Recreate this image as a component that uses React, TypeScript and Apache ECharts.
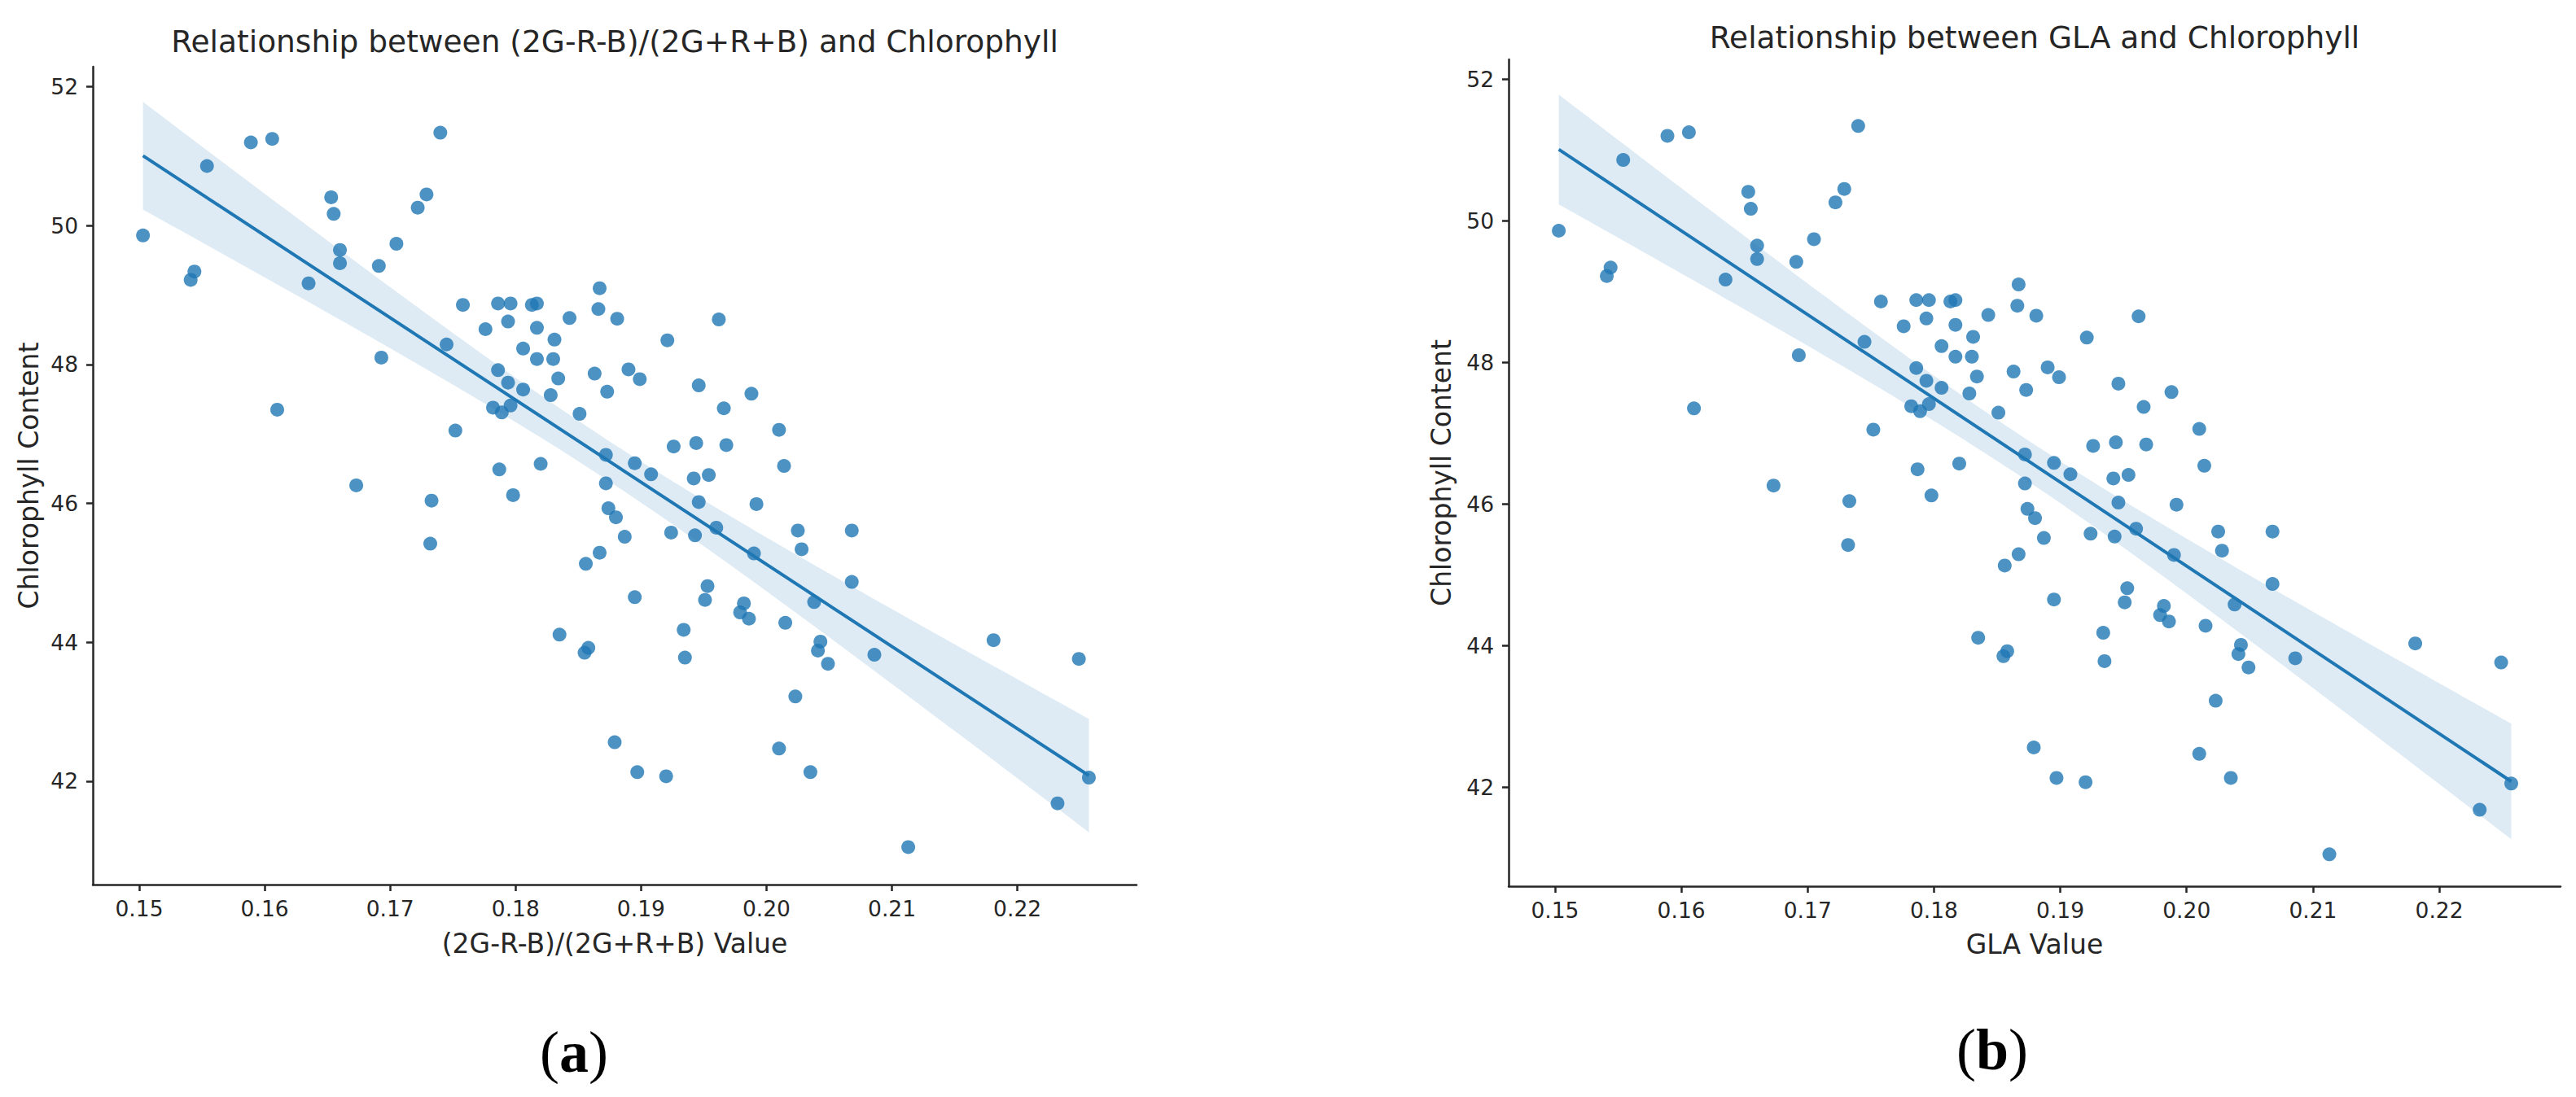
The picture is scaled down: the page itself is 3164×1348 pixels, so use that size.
import React, { useEffect, useRef } from "react";
import * as echarts from "echarts";

// Index values (x): (2G-R-B)/(2G+R+B) = GLA
const indexValues = [
  0.1503, 0.1541, 0.1544, 0.1554, 0.1589, 0.1606, 0.161, 0.1635, 0.1653, 0.1655,
  0.166, 0.166, 0.1691, 0.1693, 0.1705, 0.1722, 0.1729, 0.174, 0.1745, 0.1758,
  0.1752, 0.1776, 0.1786, 0.1796, 0.1794, 0.1786, 0.1794, 0.1806, 0.1806, 0.1813,
  0.1817, 0.1817, 0.1817, 0.1831, 0.183, 0.1834, 0.1828, 0.1843, 0.1782, 0.1789,
  0.1796, 0.1851, 0.1867, 0.1866, 0.1881, 0.1863, 0.1873, 0.189, 0.1899, 0.1787,
  0.182, 0.1673, 0.1872, 0.1895, 0.1733, 0.1798, 0.1872, 0.1874, 0.188, 0.1887,
  0.1732, 0.1867, 0.1856, 0.1895, 0.1835, 0.1858, 0.1855, 0.1879, 0.1897, 0.1962,
  0.1921, 0.1946, 0.1988, 0.1966, 0.201, 0.2014, 0.1926, 0.1944, 0.1968, 0.1908,
  0.1942, 0.1954, 0.1946, 0.1992, 0.1924, 0.1943, 0.196, 0.199, 0.2025, 0.2068,
  0.2028, 0.1953, 0.1951, 0.1982, 0.1979, 0.1986, 0.2038, 0.2068, 0.2015, 0.1934,
  0.2043, 0.2041, 0.2049, 0.2086, 0.2181, 0.2249, 0.1935, 0.2023, 0.201, 0.192,
  0.2035, 0.2257, 0.2232, 0.2113,
];

// Chlorophyll content (y)
const chlorophyll = [
  49.86, 49.22, 49.34, 50.86, 51.2, 51.25, 47.35, 49.17, 50.41, 50.17,
  49.65, 49.46, 49.42, 48.1, 49.74, 50.26, 50.45, 51.34, 48.29, 48.86,
  47.05, 48.51, 48.88, 48.88, 48.62, 47.92, 47.74, 48.23, 47.64, 48.86,
  48.88, 48.53, 48.08, 48.36, 48.08, 47.8, 47.56, 48.67, 47.38, 47.31,
  47.41, 47.29, 49.1, 48.8, 48.66, 47.87, 47.61, 47.93, 47.79, 46.49,
  46.57, 46.26, 46.7, 46.58, 46.04, 46.12, 46.29, 45.93, 45.8, 45.52,
  45.42, 45.29, 45.13, 44.65, 44.11, 43.92, 43.85, 42.56, 42.13, 48.65,
  48.35, 47.7, 47.58, 47.37, 47.06, 46.54, 46.82, 46.87, 46.84, 46.42,
  46.36, 46.41, 46.02, 45.99, 45.58, 45.54, 45.65, 45.28, 45.61, 45.61,
  45.34, 44.81, 44.61, 44.56, 44.43, 44.34, 44.58, 44.87, 44.28, 44.18,
  44.01, 43.88, 43.69, 43.82, 44.03, 43.76, 43.78, 43.22, 42.47, 42.07,
  42.13, 42.05, 41.68, 41.05,
];

const xTicks = [0.15, 0.16, 0.17, 0.18, 0.19, 0.2, 0.21, 0.22];
const yTicks = [42, 44, 46, 48, 50, 52];
const panelTitles = [
  "Relationship between (2G-R-B)/(2G+R+B) and Chlorophyll",
  "Relationship between GLA and Chlorophyll",
];
const xAxisNames = ["(2G-R-B)/(2G+R+B) Value", "GLA Value"];
const yAxisName = "Chlorophyll Content";
const captions = ["a", "b"];

// layout (pixels) per panel
const panels = [
  { left: 114, top: 82, width: 1282, height: 1005, xMin: 0.1463, xMax: 0.2295, yMin: 40.51, yMax: 52.29, titleX: 755, titleY: 51, capX: 705, capY: 1293, yNameGap: 62, xNameGap: 56 },
  { left: 1853, top: 73, width: 1292, height: 1016, xMin: 0.14633, xMax: 0.2296, yMin: 40.6, yMax: 52.28, titleX: 2499, titleY: 46, capX: 2447, capY: 1290, yNameGap: 66, xNameGap: 55 },
];

const BLUE = "#1f77b4";
const INK = "#262626";
const FONT = "DejaVu Sans";

function fitRegression(xs: number[], ys: number[]) {
  const n = xs.length;
  const mx = xs.reduce((a, b) => a + b, 0) / n;
  const my = ys.reduce((a, b) => a + b, 0) / n;
  let sxx = 0;
  let sxy = 0;
  for (let i = 0; i < n; i++) {
    sxx += (xs[i] - mx) ** 2;
    sxy += (xs[i] - mx) * (ys[i] - my);
  }
  const slope = sxy / sxx;
  const intercept = my - slope * mx;
  let sse = 0;
  for (let i = 0; i < n; i++) sse += (ys[i] - (intercept + slope * xs[i])) ** 2;
  const s = Math.sqrt(sse / (n - 2));
  const t = 1.98;
  const xmin = Math.min(...xs);
  const xmax = Math.max(...xs);
  const upper: number[][] = [];
  const lower: number[][] = [];
  const steps = 100;
  for (let k = 0; k <= steps; k++) {
    const x = xmin + ((xmax - xmin) * k) / steps;
    const yhat = intercept + slope * x;
    const h = t * s * Math.sqrt(1 / n + (x - mx) ** 2 / sxx);
    upper.push([x, yhat + h]);
    lower.push([x, yhat - h]);
  }
  const line = [
    [xmin, intercept + slope * xmin],
    [xmax, intercept + slope * xmax],
  ];
  return { upper, lower, line, mx, my };
}

export default function App() {
  const ref = useRef<HTMLDivElement>(null);
  useEffect(() => {
    if (!ref.current) return;
    const chart = echarts.init(ref.current, null, { renderer: "svg" });
    const fit = fitRegression(indexValues, chlorophyll);
    const points = indexValues.map((x, i) => [x, chlorophyll[i]]);

    const grid: any[] = [];
    const xAxis: any[] = [];
    const yAxis: any[] = [];
    const series: any[] = [];
    const graphic: any[] = [];

    panels.forEach((p, i) => {
      grid.push({ left: p.left, top: p.top, width: p.width, height: p.height, containLabel: false });
      xAxis.push({
        gridIndex: i,
        type: "value",
        min: p.xMin,
        max: p.xMax,
        name: xAxisNames[i],
        nameLocation: "middle",
        nameGap: p.xNameGap,
        nameTextStyle: { fontFamily: FONT, fontSize: 33, color: INK },
        axisLine: { show: true, onZero: false, lineStyle: { color: INK, width: 2.5 } },
        axisTick: { show: true, length: 8, customValues: xTicks, lineStyle: { color: INK, width: 2.5 } },
        axisLabel: {
          customValues: xTicks,
          formatter: (v: number) => v.toFixed(2),
          fontFamily: FONT,
          fontSize: 26.5,
          color: INK,
          margin: 16,
        },
        splitLine: { show: false },
      });
      yAxis.push({
        gridIndex: i,
        type: "value",
        min: p.yMin,
        max: p.yMax,
        name: yAxisName,
        nameLocation: "middle",
        nameGap: p.yNameGap,
        nameTextStyle: { fontFamily: FONT, fontSize: 33, color: INK },
        axisLine: { show: true, onZero: false, lineStyle: { color: INK, width: 2.5 } },
        axisTick: { show: true, length: 8, customValues: yTicks, lineStyle: { color: INK, width: 2.5 } },
        axisLabel: {
          customValues: yTicks,
          formatter: (v: number) => String(Math.round(v)),
          fontFamily: FONT,
          fontSize: 26.5,
          color: INK,
          margin: 18,
        },
        splitLine: { show: false },
      });
      series.push({
        type: "custom",
        xAxisIndex: i,
        yAxisIndex: i,
        silent: true,
        z: 1,
        data: [[fit.mx, fit.my]],
        encode: { x: 0, y: 1 },
        renderItem: (_params: any, api: any) => {
          const pts = fit.upper
            .map((d) => api.coord(d))
            .concat(fit.lower.slice().reverse().map((d) => api.coord(d)));
          return {
            type: "polygon",
            shape: { points: pts },
            style: { fill: "rgba(31,119,180,0.15)", stroke: "none" },
          };
        },
      });
      series.push({
        type: "line",
        xAxisIndex: i,
        yAxisIndex: i,
        data: fit.line,
        showSymbol: false,
        symbol: "none",
        silent: true,
        z: 2,
        lineStyle: { color: BLUE, width: 4 },
      });
      series.push({
        type: "scatter",
        xAxisIndex: i,
        yAxisIndex: i,
        data: points,
        symbolSize: 17,
        z: 3,
        itemStyle: { color: BLUE, opacity: 0.8 },
      });
      graphic.push({
        type: "text",
        x: p.titleX,
        y: p.titleY,
        style: {
          text: panelTitles[i],
          fontFamily: FONT,
          fontSize: 37.5,
          fill: INK,
          align: "center",
          verticalAlign: "middle",
        },
      });
      graphic.push({
        type: "text",
        x: p.capX,
        y: p.capY,
        style: {
          text: `{p|(}{b|${captions[i]}}{p|)}`,
          align: "center",
          verticalAlign: "middle",
          rich: {
            p: { fontFamily: "Liberation Serif", fontSize: 72, fill: "#000" },
            b: { fontFamily: "Liberation Serif", fontSize: 72, fontWeight: "bold", fill: "#000" },
          },
        },
      });
    });

    chart.setOption({
      animation: false,
      backgroundColor: "#ffffff",
      grid,
      xAxis,
      yAxis,
      series,
      graphic,
    });
    return () => chart.dispose();
  }, []);
  return (
    <div
      ref={ref}
      style={{ position: "absolute", left: 0, top: 0, width: 3164, height: 1348, background: "#fff" }}
    />
  );
}
